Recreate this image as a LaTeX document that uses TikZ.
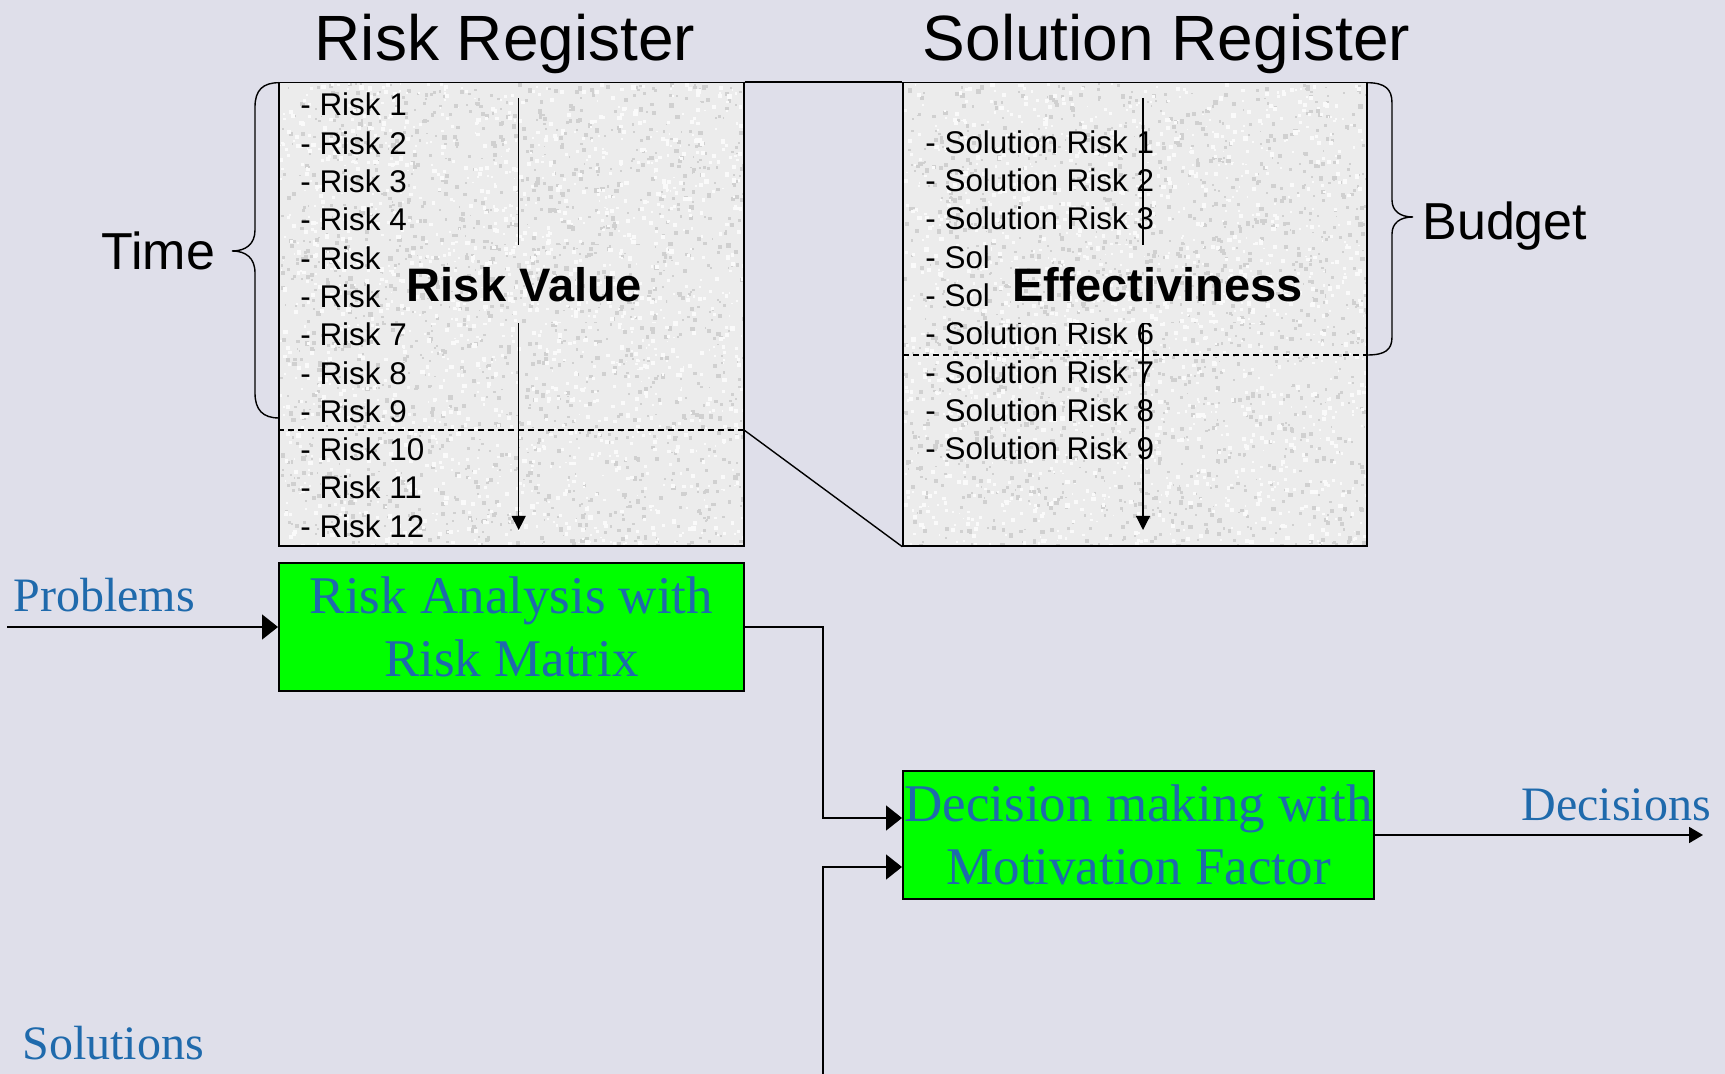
\documentclass[tikz,border=0pt]{standalone}
\usepackage{fontspec}
\setmainfont{Liberation Serif}
\setsansfont{Liberation Sans}
\usetikzlibrary{arrows.meta,calc}

\definecolor{slide}{RGB}{223,223,234}
\definecolor{paper}{RGB}{236,236,236}
\definecolor{grainD}{RGB}{208,208,208}
\definecolor{grainL}{RGB}{250,250,250}
\definecolor{ink}{RGB}{31,106,172}
\definecolor{boxgreen}{RGB}{0,255,0}

% speckled granite texture inside a rectangle: x0 y0 x1 y1 count
\newcommand\granite[5]{%
  \begin{scope}
    \clip (#1,#2) rectangle (#3,#4);
    \foreach \k in {1,...,#5}{%
      \pgfmathsetmacro\gx{#1+rnd*(#3-#1)}%
      \pgfmathsetmacro\gy{#2+rnd*(#4-#2)}%
      \pgfmathsetmacro\gr{1.5+3*rnd}%
      \fill[grainD] (\gx,\gy) rectangle ++(\gr,\gr);
    }
    \foreach \k in {1,...,#5}{%
      \pgfmathsetmacro\gx{#1+rnd*(#3-#1)}%
      \pgfmathsetmacro\gy{#2+rnd*(#4-#2)}%
      \pgfmathsetmacro\gr{1.5+3*rnd}%
      \fill[grainL] (\gx,\gy) rectangle ++(\gr,\gr);
    }
  \end{scope}}

\begin{document}
\begin{tikzpicture}[x=0.5pt,y=-0.5pt,
  heading/.style={font=\sffamily\fontsize{32}{38}\selectfont, anchor=base, inner sep=0pt},
  side/.style={font=\sffamily\fontsize{26}{31}\selectfont, anchor=base west, inner sep=0pt},
  item/.style={font=\sffamily\fontsize{15.7}{19}\selectfont, anchor=base west, inner sep=0pt},
  tag/.style={font=\sffamily\bfseries\fontsize{23.5}{28}\selectfont, anchor=base, inner sep=0pt},
  flow/.style={font=\rmfamily\fontsize{24}{29}\selectfont, text=ink, anchor=base west, inner sep=0pt},
  process/.style={draw=black, line width=1pt, fill=boxgreen, text=ink,
    font=\rmfamily\fontsize{26.5}{31.7}\selectfont, align=center,
    inner xsep=0pt, inner ysep=2pt, minimum height=64pt},
  register/.style={draw=black, line width=0.7pt, inner sep=0pt, minimum height=231.65pt},
  conn/.style={line width=0.8pt, -{Triangle[length=8pt,width=12.5pt]}},
  outflow/.style={line width=0.9pt, -{Triangle[length=7pt,width=8pt]}},
  valarrow/.style={line width=0.6pt, -{Triangle[length=7pt,width=7pt]}},
  divider/.style={line width=0.6pt, dash pattern=on 3pt off 2pt},
  brace/.style={line width=0.7pt},
]
\pgfmathsetseed{4242}
\useasboundingbox (0,0) rectangle (1725,1074);
\fill[slide] (0,0) rectangle (1725,1074);

% register surfaces
\fill[paper] (279,82.7) rectangle (744,546);
\granite{279}{82.7}{744}{546}{1500}
\fill[paper] (903,82.7) rectangle (1367,546);
\granite{903}{82.7}{1367}{546}{1500}

% headings
\node[heading] (hr) at (505,60.5) {Risk Register};
\node[heading] (hs) at (1166.5,60.5) {Solution Register};

% risk list (entries 5 and 6 run under the value plate)
\foreach \i/\t in {1/- Risk 1,2/- Risk 2,3/- Risk 3,4/- Risk 4,5/- Risk,6/- Risk,
                   7/- Risk 7,8/- Risk 8,9/- Risk 9,10/- Risk 10,11/- Risk 11,12/- Risk 12}
  \node[item] (r\i) at (300,{116+(\i-1)*38.3}) {\t};
% solution list
\foreach \i/\t in {1/- Solution Risk 1,2/- Solution Risk 2,3/- Solution Risk 3,4/- Sol,5/- Sol,
                   6/- Solution Risk 6,7/- Solution Risk 7,8/- Solution Risk 8,9/- Solution Risk 9}
  \node[item] (s\i) at (925,{153.3+(\i-1)*38.3}) {\t};

% value arrows
\coordinate (rvtop) at (518.7,98);
\coordinate (rvbot) at (518.7,530);
\draw[valarrow] (rvtop) -- (rvbot);
\coordinate (eftop) at (1143,98);
\coordinate (efbot) at (1143,530);
\draw[valarrow] (eftop) -- (efbot);

% label plates
\fill[paper] (384,245) rectangle (667,323);
\granite{384}{245}{667}{323}{200}
\node[tag] (rv) at (524.5,301.7) {Risk Value};
\fill[paper] (992,245) rectangle (1325,323);
\granite{992}{245}{1325}{323}{230}
\node[tag] (ef) at (1157.5,301.7) {Effectiviness};

% register frames
\node[register, minimum width=232.5pt] (rr) at (511.5,314.35) {};
\node[register, minimum width=232pt] (sr) at (1135,314.35) {};

% dividers
\coordinate (rcut) at (744,430);
\draw[divider] (rr.west |- rcut) -- (rcut);
\coordinate (scut) at (903,355);
\draw[divider] (scut) -- (sr.east |- scut);

% zoom lines between the registers
\draw[line width=0.7pt] (rr.north east) -- (sr.north west);
\draw[line width=0.7pt] (rcut) -- (sr.south west);

% Time brace
\draw[brace] (279,82.7) .. controls (263,82.7) and (255,90) .. (255,107)
  -- (255,230) .. controls (255,244) and (246,251) .. (232,251)
  .. controls (246,251) and (255,258) .. (255,273)
  -- (255,393) .. controls (255,410) and (263,418) .. (279,418);
\node[side] (time) at (101,270) {Time};

% Budget brace
\draw[brace] (1367,82.7) .. controls (1385,82.7) and (1392,89) .. (1392,103)
  -- (1392,200) .. controls (1392,211) and (1400,217) .. (1413,217)
  .. controls (1400,217) and (1392,223) .. (1392,234)
  -- (1392,337) .. controls (1392,350) and (1385,355) .. (1367,355);
\node[side] (budget) at (1422,240) {Budget};

% process boxes
\node[process, minimum width=232.5pt] (ra) at (511.5,627) {Risk Analysis with\\Risk Matrix};
\node[process, minimum width=235.5pt] (dm) at (1138.5,835) {Decision making with\\Motivation Factor};

% flow labels
\node[flow] (problems) at (13,612) {Problems};
\node[flow] (solutions) at (22,1059) {Solutions};
\node[flow] (decisions) at (1521,820) {Decisions};

% flow connectors
\coordinate (pin) at (7,627);
\draw[conn] (pin) -- (ra.west);
\coordinate (j1) at (823,818);
\draw[conn] (ra.east) -| (j1) -- (j1 -| dm.west);
\coordinate (sin) at (823,1080);
\coordinate (j2) at (823,867);
\draw[conn] (sin) -- (j2) -- (j2 -| dm.west);
\coordinate (dout) at (1703,835);
\draw[outflow] (dm.east) -- (dout);
\end{tikzpicture}
\end{document}
